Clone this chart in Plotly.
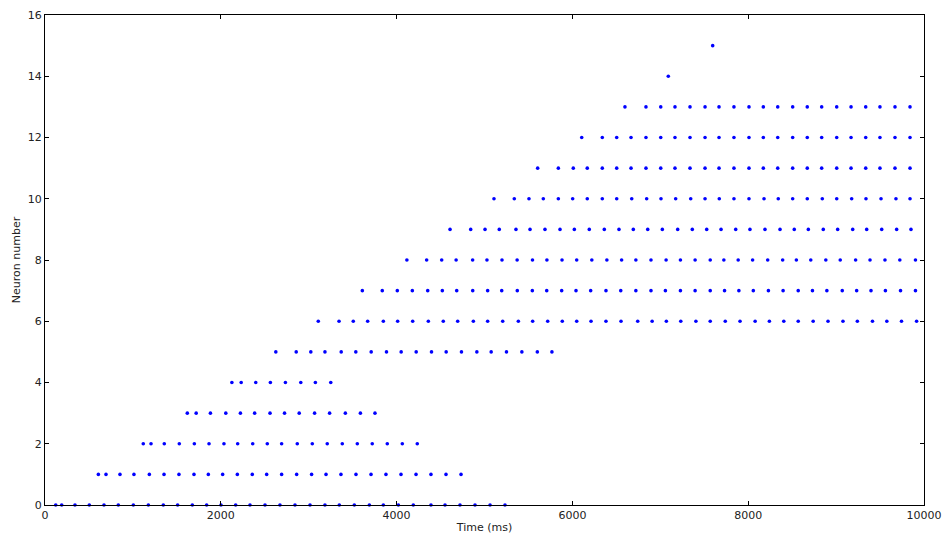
import plotly.graph_objects as go

# Spike times (ms) per neuron
neuron_0 = [122, 190, 341, 504, 671, 834, 1005, 1176, 1346, 1509, 1676, 1839, 2002, 2169,
            2332, 2503, 2673, 2844, 3015, 3185, 3348, 3519, 3690, 3849, 4020, 4190, 4391,
            4551, 4721, 4892, 5063, 5233]
neuron_1 = [607, 694, 853, 1012, 1187, 1354, 1524, 1695, 1858, 2021, 2188, 2358, 2522, 2692,
            2863, 3033, 3197, 3367, 3538, 3709, 3879, 4050, 4221, 4391, 4562, 4733]
neuron_2 = [1118, 1206, 1357, 1528, 1699, 1866, 2036, 2192, 2363, 2529, 2692, 2870, 3041,
            3211, 3382, 3553, 3723, 3894, 4065, 4235]
neuron_3 = [1619, 1720, 1882, 2057, 2223, 2385, 2560, 2725, 2892, 3067, 3238, 3417, 3588, 3754]
neuron_4 = [2126, 2232, 2398, 2564, 2735, 2910, 3076, 3251]
neuron_5 = [2626, 2858, 3024, 3185, 3370, 3536, 3711, 3885, 4052, 4223, 4397, 4564, 4738,
            4913, 5076, 5250, 5425, 5601, 5767]
neuron_6 = [3109, 3345, 3507, 3671, 3849, 4012, 4183, 4361, 4531, 4695, 4873, 5036, 5207,
            5385, 5548, 5719, 5885, 6049, 6212, 6382, 6553, 6743, 6907, 7069, 7233, 7405,
            7568, 7739, 7907, 8079, 8241, 8405, 8569, 8739, 8908, 9078, 9242, 9414, 9577,
            9744, 9916]
neuron_7 = [3610, 3837, 4008, 4179, 4354, 4520, 4684, 4866, 5036, 5196, 5373, 5544, 5708,
            5878, 6041, 6208, 6382, 6550, 6722, 6894, 7058, 7229, 7396, 7568, 7731, 7894,
            8058, 8230, 8397, 8569, 8731, 8895, 9070, 9234, 9397, 9561, 9733, 9903]
neuron_8 = [4117, 4342, 4513, 4677, 4865, 5028, 5199, 5371, 5546, 5710, 5882, 6049, 6221,
            6392, 6560, 6722, 6894, 7066, 7229, 7396, 7568, 7723, 7886, 8050, 8222, 8392,
            8548, 8712, 8883, 9047, 9222, 9386, 9556, 9725, 9903]
neuron_9 = [4608, 4843, 5006, 5168, 5358, 5518, 5688, 5859, 6022, 6192, 6363, 6530, 6693,
            6857, 7023, 7198, 7364, 7528, 7691, 7858, 8020, 8191, 8362, 8524, 8684, 8854,
            9018, 9189, 9348, 9519, 9689, 9852]
neuron_10 = [5108, 5339, 5506, 5669, 5840, 6003, 6169, 6340, 6504, 6675, 6845, 7008, 7175,
             7346, 7509, 7671, 7838, 8009, 8180, 8342, 8506, 8672, 8843, 9007, 9177, 9340,
             9511, 9681, 9841]
neuron_11 = [5605, 5840, 6010, 6169, 6340, 6504, 6667, 6837, 7005, 7167, 7338, 7509, 7668,
             7838, 8009, 8172, 8336, 8506, 8672, 8836, 9007, 9170, 9337, 9499, 9670, 9841]
neuron_12 = [6106, 6340, 6504, 6667, 6837, 7005, 7167, 7338, 7509, 7668, 7838, 8009, 8172,
             8336, 8506, 8672, 8836, 9007, 9170, 9337, 9499, 9670, 9841]
neuron_13 = [6598, 6837, 7005, 7167, 7338, 7509, 7668, 7838, 8009, 8172, 8336, 8506, 8672,
             8836, 9007, 9170, 9337, 9499, 9670, 9841]
neuron_14 = [7091]
neuron_15 = [7596]

spike_trains = [neuron_0, neuron_1, neuron_2, neuron_3, neuron_4, neuron_5, neuron_6,
                neuron_7, neuron_8, neuron_9, neuron_10, neuron_11, neuron_12, neuron_13,
                neuron_14, neuron_15]

x_ticks = [0, 2000, 4000, 6000, 8000, 10000]
y_ticks = [0, 2, 4, 6, 8, 10, 12, 14, 16]

xs, ys = [], []
for idx, times in enumerate(spike_trains):
    xs.extend(times)
    ys.extend([idx] * len(times))

fig = go.Figure()
fig.add_trace(go.Scatter(
    x=xs, y=ys, mode="markers",
    marker=dict(color="#0000ff", size=3.6, line=dict(width=0)),
    cliponaxis=False, showlegend=False, hoverinfo="x+y"))

font_family = "DejaVu Sans, Liberation Sans, sans-serif"
axis_common = dict(
    showline=True, linecolor="black", linewidth=1, mirror="ticks",
    ticks="inside", ticklen=4, tickcolor="black", tickwidth=1,
    showgrid=False, zeroline=False, automargin=False,
    tickfont=dict(family=font_family, size=11, color="#222222"),
)

fig.update_layout(
    width=949, height=537,
    margin=dict(l=45, r=25, t=15, b=32),
    paper_bgcolor="white", plot_bgcolor="white",
    xaxis=dict(range=[0, 10000], tickvals=x_ticks, ticktext=[str(v) for v in x_ticks],
               title=dict(text="Time (ms)", font=dict(family=font_family, size=11, color="#222222"),
                          standoff=2),
               **axis_common),
    yaxis=dict(range=[0, 16], tickvals=y_ticks, ticktext=[str(v) for v in y_ticks],
               title=dict(text="Neuron number", font=dict(family=font_family, size=11, color="#222222"),
                          standoff=4),
               **axis_common),
)

fig.write_html(
    "out.html",
    config={"displayModeBar": False},
    post_script="document.body.style.margin='0';document.body.style.padding='0';"
                "document.body.style.overflow='hidden';",
)
